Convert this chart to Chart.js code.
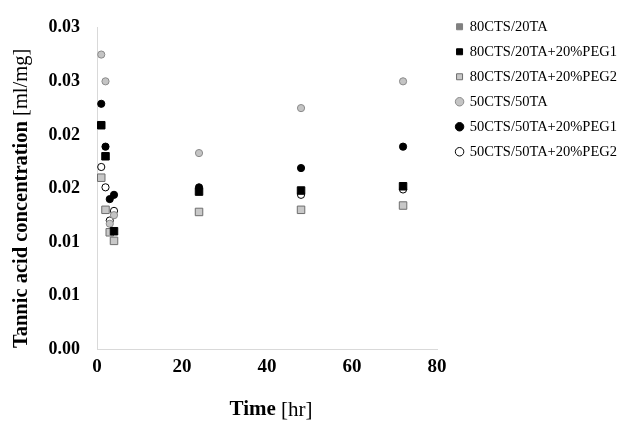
<!DOCTYPE html>
<html>
<head>
<meta charset="utf-8">
<script src="https://cdn.jsdelivr.net/npm/chart.js@4.4.0/dist/chart.umd.min.js"></script>
<style>
    html, body { margin: 0; padding: 0; background: #fff; }
    #wrap { width: 630px; height: 423px; }
</style>
</head>
<body>
<div id="wrap"><canvas id="tannicChart" width="630" height="423"></canvas></div>
<script>
// sampling times [hr] for each series (some points are missing / hidden in the picture)
const timesAll = [1, 2, 3, 4, 24, 48, 72];
const timesPeg1Square = [1, 2, 4, 24, 48, 72];
const timesPeg2Circle = [1, 2, 3, 4, 48, 72];

// tannic acid concentration [ml/mg]
const cts80ta20 = [];
const cts80ta20Peg1 = [0.0209, 0.0180, 0.0110, 0.0147, 0.0148, 0.0152];
const cts80ta20Peg2 = [0.0160, 0.0130, 0.0109, 0.0101, 0.0128, 0.0130, 0.0134];
const cts50ta50 = [0.0275, 0.0250, 0.0117, 0.0125, 0.0183, 0.0225, 0.0250];
const cts50ta50Peg1 = [0.0229, 0.0189, 0.0140, 0.0144, 0.0151, 0.0169, 0.0189];
const cts50ta50Peg2 = [0.0170, 0.0151, 0.0120, 0.0129, 0.0144, 0.0149];

const seriesLabels = ['80CTS/20TA', '80CTS/20TA+20%PEG1', '80CTS/20TA+20%PEG2',
    '50CTS/50TA', '50CTS/50TA+20%PEG1', '50CTS/50TA+20%PEG2'];

const xTicks = [0, 20, 40, 60, 80];

function toPoints(times, values) {
    return values.map((v, i) => ({x: times[i], y: v}));
}

const SERIF = '"Liberation Serif", "Times New Roman", serif';

// draws a title made of bold + normal parts
function drawMixed(ctx, parts, cx, cy, size) {
    let total = 0;
    parts.forEach(p => {
        ctx.font = p[0] + ' ' + size + 'px ' + SERIF;
        total += ctx.measureText(p[1]).width;
    });
    let x = cx - total / 2;
    parts.forEach(p => {
        ctx.font = p[0] + ' ' + size + 'px ' + SERIF;
        ctx.fillText(p[1], x, cy);
        x += ctx.measureText(p[1]).width;
    });
}

const axisTitles = {
    id: 'axisTitles',
    afterLayout(chart) {
        // leave a gap between the plot and the legend like in the original
        chart.legend.left += 9;
        chart.legend.right += 9;
    },
    afterDraw(chart) {
        const ctx = chart.ctx;
        const area = chart.chartArea;
        ctx.save();
        ctx.fillStyle = '#000';
        ctx.textAlign = 'left';
        ctx.textBaseline = 'middle';
        drawMixed(ctx, [['bold', 'Time'], ['normal', ' [hr]']], (area.left + area.right) / 2 + 4, 410, 21);

        ctx.translate(22, (area.top + area.bottom) / 2 + 10);
        ctx.rotate(-Math.PI / 2);
        drawMixed(ctx, [['bold', 'Tannic acid concentration'], ['normal', ' [ml/mg]']], 0, 0, 20.5);
        ctx.restore();
    }
};

const ctx = document.getElementById('tannicChart').getContext('2d');

new Chart(ctx, {
    type: 'scatter',
    data: {
        datasets: [
            {
                label: seriesLabels[0],
                data: toPoints(timesAll, cts80ta20),
                pointStyle: 'rect',
                backgroundColor: '#808080',
                borderColor: '#808080',
                borderWidth: 1,
                pointRadius: 5.3
            },
            {
                label: seriesLabels[1],
                data: toPoints(timesPeg1Square, cts80ta20Peg1),
                pointStyle: 'rect',
                backgroundColor: '#000',
                borderColor: '#000',
                borderWidth: 1,
                pointRadius: 5.3
            },
            {
                label: seriesLabels[2],
                data: toPoints(timesAll, cts80ta20Peg2),
                pointStyle: 'rect',
                backgroundColor: '#c8c8c8',
                borderColor: '#6e6e6e',
                borderWidth: 1,
                pointRadius: 5.3
            },
            {
                label: seriesLabels[3],
                data: toPoints(timesAll, cts50ta50),
                pointStyle: 'circle',
                backgroundColor: '#c4c4c4',
                borderColor: '#8a8a8a',
                borderWidth: 1,
                pointRadius: 3.6
            },
            {
                label: seriesLabels[4],
                data: toPoints(timesAll, cts50ta50Peg1),
                pointStyle: 'circle',
                backgroundColor: '#000',
                borderColor: '#000',
                borderWidth: 1,
                pointRadius: 3.6
            },
            {
                label: seriesLabels[5],
                data: toPoints(timesPeg2Circle, cts50ta50Peg2),
                pointStyle: 'circle',
                backgroundColor: '#fff',
                borderColor: '#000',
                borderWidth: 1,
                pointRadius: 3.6
            }
        ]
    },
    options: {
        responsive: false,
        animation: false,
        layout: {
            padding: {top: 9, right: 12, bottom: 0, left: 0}
        },
        plugins: {
            tooltip: {enabled: false},
            legend: {
                position: 'right',
                align: 'start',
                maxWidth: 300,
                labels: {
                    usePointStyle: true,
                    boxWidth: 6,
                    boxHeight: 6,
                    padding: 10.5,
                    color: '#000',
                    font: {family: SERIF, size: 14.5}
                }
            }
        },
        scales: {
            x: {
                type: 'linear',
                min: 0,
                max: 80,
                afterBuildTicks: axis => {
                    axis.ticks = xTicks.map(v => ({value: v}));
                },
                afterFit: axis => {
                    axis.height = 423 - 349;
                },
                grid: {display: false, drawTicks: false},
                border: {color: '#d9d9d9', width: 1},
                ticks: {
                    padding: 7,
                    color: '#000',
                    font: {family: SERIF, size: 19, weight: 'bold'}
                }
            },
            y: {
                min: 0,
                max: 0.03,
                afterFit: axis => {
                    axis.width = 97;
                },
                grid: {display: false, drawTicks: false},
                border: {color: '#d9d9d9', width: 1},
                ticks: {
                    stepSize: 0.005,
                    padding: 17,
                    color: '#000',
                    font: {family: SERIF, size: 18, weight: 'bold'},
                    // Excel style rounding to 2 decimals (0.015 -> 0.02)
                    callback: v => (Math.round(v * 100 + 1e-6) / 100).toFixed(2)
                }
            }
        }
    },
    plugins: [axisTitles]
});
</script>
</body>
</html>
